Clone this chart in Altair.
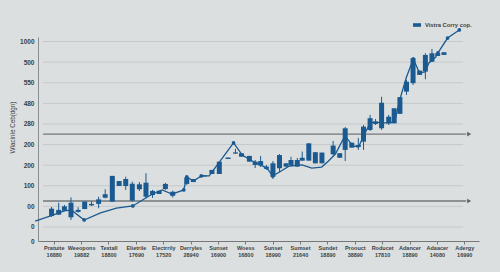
import altair as alt
import pandas as pd

BLUE = "#1b5a90"
BG = "#dcdfdf"
GRID = "#c6c9ca"
TXT = "#3d3f41"
FONT = "Liberation Sans"

# ---- category axis (x) ----
cat_names = ["Pratuite", "Weeopons", "Textall", "Elietrile", "Electrrily", "Derryles",
             "Sunset", "Woess", "Sunset", "Sumset", "Sundet", "Proouct",
             "Roducet", "Adancer", "Adaacer", "Adergy"]
cat_nums = ["16880", "19882", "18800", "17690", "17520", "28940", "16900", "16800",
            "18990", "21640", "18890", "38890", "17810", "18890", "14080", "16990"]

# ---- value axis (y): tick positions and their printed labels ----
y_ticks = [-68, 0, 100, 200, 300, 400, 500, 600, 700, 800, 900]
y_tick_labels = ["0", "0", "00", "100", "200", "200", "280", "480", "550", "500", "1000"]
grid_vals = [0, 100, 200, 300, 400, 500, 600, 700, 800, 900]
arrow_vals = [451, 126]

# ---- candlesticks ----
c_x = [-0.08, 0.18, 0.39, 0.63, 0.89, 1.13, 1.38, 1.64, 1.88, 2.14, 2.39, 2.63, 2.87,
       3.13, 3.37, 3.61, 3.85, 4.08, 4.35, 4.86, 5.10, 5.50, 5.78, 6.05, 6.37, 6.64,
       6.86, 7.15, 7.36, 7.56, 7.77, 8.01, 8.25, 8.49, 8.67, 8.90, 9.08, 9.32, 9.56,
       9.80, 10.21, 10.45, 10.65, 10.89, 11.13, 11.32, 11.56, 11.76, 11.98, 12.24,
       12.44, 12.65, 12.89, 13.13, 13.37, 13.58, 13.82, 14.03, 14.26]
c_open = [53, 60, 79, 47, 73, 87, 105, 112, 142, 123, 199, 199, 128, 183, 147, 155, 160,
          184, 152, 209, 218, 245, 257, 257, 330, 356, 341, 317, 301, 298, 282, 244, 285,
          293, 301, 293, 322, 322, 309, 309, 353, 336, 374, 385, 388, 414, 471, 500, 479,
          503, 503, 549, 657, 698, 738, 754, 802, 830, 835]
c_close = [89, 83, 100, 118, 83, 123, 112, 134, 159, 248, 223, 233, 210, 207, 215, 175, 176,
           209, 171, 240, 233, 251, 277, 317, 337, 362, 358, 345, 317, 320, 293, 309, 349,
           309, 325, 325, 336, 406, 363, 361, 395, 358, 479, 409, 398, 487, 528, 511, 603,
           535, 576, 630, 705, 819, 759, 835, 843, 843, 848]
c_low = [49, 58, 78, 34, 70, 87, 102, 91, 139, 123, 199, 180, 123, 175, 139, 141, 160,
         180, 143, 204, 218, 245, 257, 257, 330, 356, 341, 317, 286, 291, 277, 233, 267,
         293, 293, 291, 320, 322, 309, 309, 349, 336, 320, 385, 374, 374, 466, 495, 471,
         495, 503, 549, 641, 689, 738, 717, 801, 830, 835]
c_high = [97, 118, 107, 144, 96, 123, 125, 147, 183, 248, 223, 244, 220, 218, 261, 180, 176,
          214, 176, 245, 233, 251, 277, 317, 337, 379, 358, 345, 325, 345, 301, 320, 354,
          309, 341, 335, 366, 406, 363, 361, 417, 358, 485, 409, 432, 495, 544, 524, 632,
          544, 576, 630, 714, 825, 759, 843, 864, 843, 848]

# ---- trend line ----
l_x = [-0.68, -0.14, 0.39, 0.64, 1.11, 1.71, 2.29, 2.89, 3.36, 3.61, 3.96, 4.32, 4.75,
       4.86, 5.11, 5.39, 5.68, 6.57, 6.89, 7.18, 7.79, 8.00, 8.25, 8.61, 9.07, 9.43,
       9.79, 10.04, 10.29, 10.64, 10.93, 11.14, 11.32, 11.57, 11.75, 12.00, 12.25,
       12.46, 12.64, 12.89, 13.14, 13.36, 13.57, 13.71, 13.96, 14.04, 14.39, 14.82]
l_v = [29, 53, 78, 83, 34, 68, 92, 102, 141, 160, 180, 160, 180, 243, 223, 248, 248, 408,
       349, 325, 286, 248, 267, 296, 301, 286, 291, 320, 354, 442, 393, 388, 442, 505,
       510, 505, 505, 510, 616, 728, 815, 748, 752, 796, 825, 845, 917, 956]
l_dot = [0, 0, 0, 0, 1, 0, 0, 1, 0, 0, 0, 1, 1, 1, 0, 1, 0, 1, 0, 0, 0, 1, 0, 0, 0, 0,
         0, 0, 0, 0, 0, 0, 0, 0, 0, 0, 0, 0, 0, 0, 1, 0, 0, 0, 0, 1, 1, 1]

series_name = "Vistra Corry cop."

candles = pd.DataFrame({"x": c_x, "open": c_open, "close": c_close,
                        "low": c_low, "high": c_high, "series": series_name})
line_df = pd.DataFrame({"x": l_x, "v": l_v, "i": list(range(len(l_x))), "dot": l_dot})
dots_df = line_df[line_df["dot"] == 1]
grid_df = pd.DataFrame({"v": grid_vals, "x0": -0.393, "x1": 14.96})
arrow_df = pd.DataFrame({"v": arrow_vals, "x0": -0.393, "x1": 15.07, "xa": 15.18})

X_DOM = [-0.393, 15.357]
Y_DOM = [-68, 922]

xlabel_expr = "[" + ",".join(f"['{n}','{m}']" for n, m in zip(cat_names, cat_nums)) + "][datum.value]"
ylabel_expr = ("[" + ",".join(f"'{s}'" for s in y_tick_labels) + "][indexof(["
               + ",".join(str(v) for v in y_ticks) + "], datum.value)]")

xs = alt.Scale(domain=X_DOM, nice=False, zero=False)
ys = alt.Scale(domain=Y_DOM, nice=False, zero=False)

x_axis = alt.Axis(values=list(range(16)), labelExpr=xlabel_expr, title=None, grid=False,
                  tickSize=3, tickColor="#777", domainColor="#777", labelFontSize=5.5,
                  labelFontWeight="bold", labelColor=TXT, labelPadding=1,
                  labelLineHeight=7.5, labelFont=FONT, labelOverlap=False,
                  labelBound=False, labelFlush=False)
y_axis = alt.Axis(values=y_ticks, labelExpr=ylabel_expr, title="Wlacinle Ceb(dgn)",
                  grid=False, ticks=False, domainColor="#8a8d8f", labelFontSize=6.5,
                  labelFontWeight="bold", labelColor=TXT, labelPadding=4,
                  labelFont=FONT, labelOverlap=False, labelBound=False, labelFlush=False,
                  titleFont=FONT, titleFontSize=6.3, titleFontWeight="normal",
                  titleColor=TXT, titleX=-26, titleY=90, titleAngle=270,
                  titleAlign="center", titleBaseline="middle")


def X(field):
    return alt.X(field, scale=xs, axis=x_axis)


def Y(field):
    return alt.Y(field, scale=ys, axis=y_axis)


grid = alt.Chart(grid_df).mark_rule(color=GRID, strokeWidth=1).encode(
    x=X("x0:Q"), x2="x1:Q", y=Y("v:Q"))

arrows = alt.Chart(arrow_df).mark_rule(color="#72777a", strokeWidth=1.3).encode(
    x=X("x0:Q"), x2="x1:Q", y=Y("v:Q"))
heads = alt.Chart(arrow_df).mark_point(shape="triangle-right", filled=True, size=22,
                                       color="#5f6467", opacity=1).encode(
    x=X("xa:Q"), y=Y("v:Q"))

wick = alt.Chart(candles).mark_rule(color=BLUE, strokeWidth=1).encode(
    x=X("x:Q"), y=Y("low:Q"), y2="high:Q")
body = alt.Chart(candles).mark_bar(size=5).encode(
    x=X("x:Q"), y=Y("open:Q"), y2="close:Q",
    color=alt.Color("series:N", scale=alt.Scale(range=[BLUE]),
                    legend=alt.Legend(title=None, orient="none", legendX=374, legendY=-17,
                                      symbolType="M-1,-0.45H1V0.45H-1Z", symbolSize=64,
                                      symbolOpacity=1, labelFontSize=5.8,
                                      labelFontWeight="bold", labelColor=TXT,
                                      labelFont=FONT, padding=0, labelOffset=3)))

line = alt.Chart(line_df).mark_line(color=BLUE, strokeWidth=1.3).encode(
    x=X("x:Q"), y=Y("v:Q"), order="i:Q")
dots = alt.Chart(dots_df).mark_point(filled=True, size=14, color=BLUE, opacity=1).encode(
    x=X("x:Q"), y=Y("v:Q"))

chart = alt.layer(grid, arrows, heads, wick, body, line, dots).properties(
    width=441, height=204,
    autosize=alt.AutoSizeParams(type="none"),
    padding={"left": 38, "top": 37, "right": 21, "bottom": 31},
    background=BG,
).configure_view(stroke=None).configure_axis(labelOverlap=False)

chart.save("out.html", embed_options={"renderer": "svg", "actions": False})
